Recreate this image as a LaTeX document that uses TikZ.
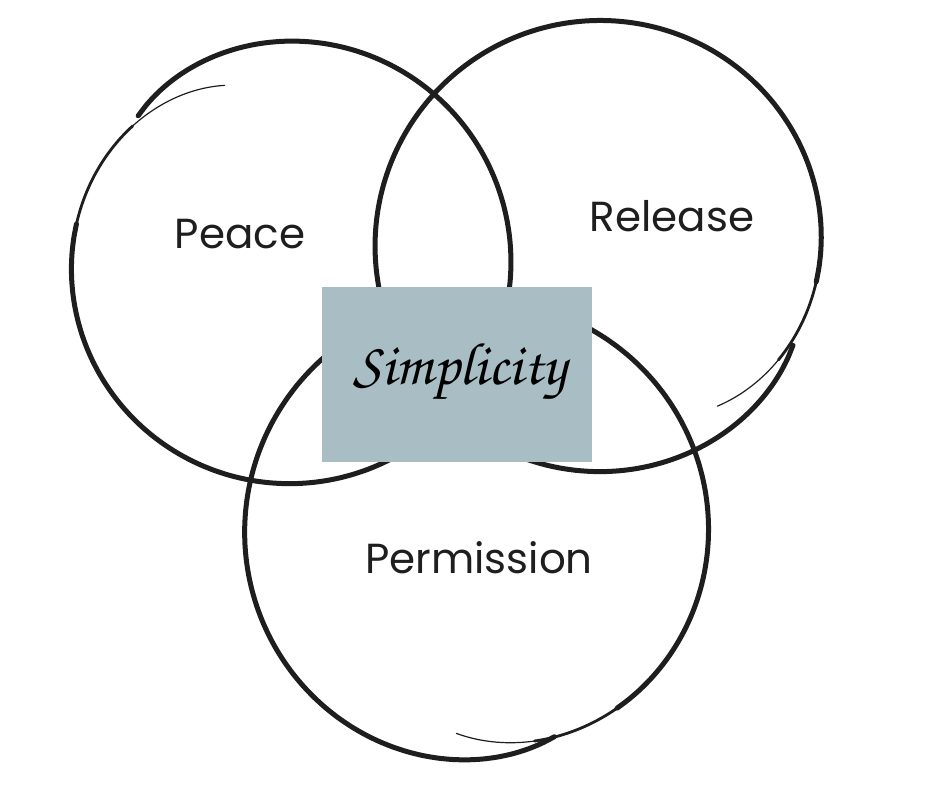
\documentclass[tikz,border=0pt]{standalone}
\usepackage{fontspec}
\setmainfont{Poppins}
\definecolor{boxc}{HTML}{A9BEC4}
\definecolor{ink}{HTML}{1E1E1E}
\tikzset{
  lbl/.style={font=\fontsize{42}{48}\selectfont, text=ink, inner sep=0pt},
  scriptlbl/.style={font=\usefont{T1}{pzc}{m}{it}\fontsize{60}{70}\selectfont, text=black, inner sep=0pt},
  simbox/.style={fill=boxc, draw=none, minimum width=270pt, minimum height=175pt, inner sep=0pt}
}
% hand-drawn circle parameters: cx cy R theta0 span a wa b wb
\newcommand\hcdef[9]{\def\hcx{#1}\def\hcy{#2}\def\hcR{#3}\def\hct{#4}\def\hcs{#5}\def\hca{#6}\def\hcwa{#7}\def\hcb{#8}\def\hcwb{#9}}
\newcommand\hcrad{(\hcR + \hca*exp(-\x/\hcwa) + \hcb*exp(-(1-\x)/\hcwb))}
\newcommand\hcseg[3]{\draw[line width=#3, line cap=round, line join=round, color=ink] plot[domain=#1:#2, samples=90, smooth] ({\hcx + \hcrad*cos(\hct - \hcs*\x)}, {\hcy + \hcrad*sin(\hct - \hcs*\x)});}
\begin{document}
\begin{tikzpicture}[x=1pt,y=-1pt]
\useasboundingbox (0,0) rectangle (940,788);
% Peace circle
\hcdef{289}{262}{222}{250}{386}{-34}{0.09}{-12}{0.05}
\hcseg{0}{0.08}{1.2pt}
\hcseg{0.075}{0.16}{2.8pt}
\hcseg{0.155}{1}{5pt}
% Release circle
\hcdef{601}{246}{226}{54}{387}{-28}{0.09}{-10}{0.05}
\hcseg{0}{0.06}{1.2pt}
\hcseg{0.055}{0.12}{2.8pt}
\hcseg{0.115}{1}{5pt}
% Permission circle
\hcdef{477.5}{532.5}{233}{96}{387}{-31}{0.09}{-15}{0.06}
\hcseg{0}{0.06}{1.2pt}
\hcseg{0.055}{0.12}{2.8pt}
\hcseg{0.115}{1}{5pt}
% center box
\node[simbox] (box) at (457,374.5) {};
\node[scriptlbl] (simp) at (460,372) {Simplicity};
% labels
\node[lbl] (peace) at (240,234) {Peace};
\node[lbl] (release) at (672,216) {Release};
\node[lbl] (perm) at (479,558) {Permission};
\end{tikzpicture}
\end{document}
